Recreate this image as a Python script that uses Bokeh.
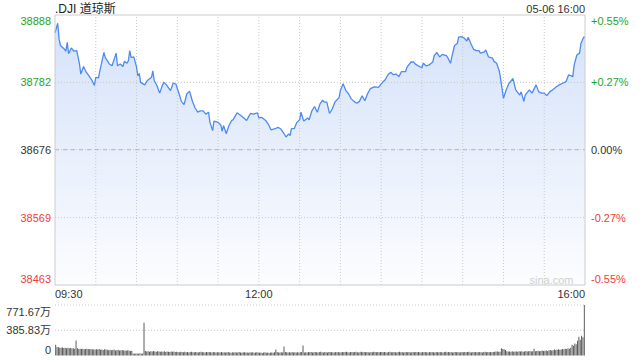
import numpy as np
from bokeh.plotting import figure
from bokeh.models import Range1d
from bokeh.core.properties import value
from bokeh.embed import file_html
from bokeh.resources import INLINE

# ---------------- data ----------------
title_text = ".DJI 道琼斯"
date_text = "05-06 16:00"
watermark_text = "sina.com"

prev_close = 38676

# minutes after 09:30 and index level
price_minutes = [0, 2, 3, 4, 7, 8, 9, 10, 12, 14, 16, 18, 19, 21, 23, 25, 27, 29, 30, 32,
                 33, 36, 37, 40, 42, 45, 46, 48, 50, 51, 53, 54, 55, 56, 58, 60, 61, 62, 63, 66,
                 68, 71, 72, 73, 75, 77, 79, 80, 82, 85, 87, 89, 91, 93, 95, 97, 99, 101, 103, 105,
                 107, 109, 111, 113, 114, 116, 117, 120, 122, 123, 124, 126, 128, 130, 131, 134, 136, 139, 141, 143,
                 144, 146, 149, 150, 152, 155, 157, 159, 162, 164, 166, 168, 170, 172, 173, 174, 176, 178, 180, 181,
                 183, 186, 187, 189, 191, 193, 195, 197, 198, 200, 202, 204, 206, 209, 210, 212, 214, 216, 218, 220,
                 222, 224, 226, 228, 230, 232, 235, 238, 241, 243, 245, 247, 249, 251, 253, 255, 258, 259, 262, 264,
                 265, 268, 270, 271, 273, 275, 278, 279, 281, 283, 285, 288, 289, 291, 292, 294, 296, 297, 299, 301,
                 303, 304, 306, 308, 310, 312, 313, 316, 317, 319, 322, 323, 325, 327, 328, 330, 332, 334, 337, 339,
                 342, 343, 345, 346, 349, 351, 354, 356, 358, 360, 362, 364, 366, 369, 371, 374, 376, 378, 381, 382,
                 384, 386, 387, 389, 390]
price_values = [38860, 38875, 38850, 38840, 38834, 38831, 38845, 38827, 38836, 38831, 38832, 38811, 38795, 38807, 38798, 38792, 38786, 38777, 38790, 38789,
                38800, 38829, 38821, 38811, 38808, 38828, 38808, 38811, 38807, 38815, 38812, 38816, 38832, 38821, 38822, 38806, 38792, 38796, 38782, 38778,
                38785, 38790, 38800, 38785, 38777, 38765, 38777, 38782, 38778, 38769, 38781, 38779, 38766, 38752, 38747, 38764, 38768, 38753, 38742, 38735,
                38737, 38737, 38732, 38735, 38719, 38706, 38721, 38719, 38715, 38705, 38714, 38701, 38714, 38722, 38723, 38734, 38731, 38726, 38722, 38730,
                38733, 38732, 38734, 38726, 38727, 38722, 38716, 38707, 38709, 38711, 38709, 38703, 38696, 38701, 38698, 38709, 38709, 38719, 38723, 38735,
                38721, 38726, 38723, 38737, 38744, 38735, 38748, 38754, 38751, 38751, 38733, 38740, 38751, 38758, 38769, 38780, 38769, 38764, 38756, 38752,
                38749, 38752, 38761, 38753, 38764, 38772, 38775, 38774, 38782, 38786, 38794, 38798, 38794, 38795, 38791, 38799, 38799, 38806, 38814, 38814,
                38811, 38807, 38805, 38812, 38808, 38809, 38814, 38824, 38829, 38822, 38826, 38824, 38821, 38812, 38822, 38840, 38843, 38853, 38854, 38852,
                38847, 38853, 38843, 38834, 38832, 38832, 38828, 38830, 38833, 38822, 38820, 38815, 38812, 38799, 38786, 38757, 38770, 38780, 38788, 38770,
                38762, 38767, 38752, 38762, 38770, 38765, 38778, 38767, 38765, 38765, 38761, 38767, 38770, 38775, 38778, 38781, 38783, 38794, 38791, 38809,
                38825, 38828, 38843, 38853, 38853]

# per-minute volume (万), one row per half hour
volume_rows = [
    [166, 130, 125, 120, 118, 122, 115, 120, 112, 118, 110, 115, 108, 112, 105, 230, 110, 100, 105, 98, 102, 95, 100, 105, 98, 95, 100, 92, 96, 90],
    [95, 90, 98, 88, 92, 85, 95, 90, 86, 82, 88, 80, 85, 90, 78, 82, 86, 76, 80, 84, 75, 78, 72, 80, 76, 70, 74, 30, 28, 32],
    [30, 25, 35, 28, 32, 500, 70, 62, 66, 58, 64, 60, 68, 62, 58, 65, 60, 56, 62, 58, 64, 55, 60, 58, 52, 60, 56, 62, 54, 58],
    [55, 50, 58, 52, 48, 56, 50, 54, 46, 52, 58, 50, 48, 54, 50, 46, 52, 56, 48, 50, 45, 52, 48, 55, 50, 46, 52, 48, 44, 50],
    [48, 45, 52, 46, 50, 44, 48, 52, 45, 42, 48, 46, 50, 44, 47, 52, 45, 43, 48, 50, 44, 46, 42, 48, 45, 50, 43, 46, 48, 44],
    [42, 45, 40, 44, 48, 42, 46, 40, 44, 47, 43, 50, 91, 52, 46, 44, 48, 45, 136, 55, 48, 44, 50, 46, 52, 44, 48, 45, 50, 46],
    [48, 52, 151, 46, 50, 46, 55, 48, 52, 45, 50, 54, 48, 46, 52, 58, 50, 47, 53, 49, 46, 52, 55, 48, 50, 46, 52, 49, 54, 47],
    [50, 54, 48, 52, 56, 50, 46, 52, 55, 49, 53, 58, 50, 47, 52, 56, 49, 53, 48, 55, 51, 47, 54, 50, 56, 52, 48, 53, 50, 55],
    [52, 48, 55, 50, 46, 53, 57, 50, 48, 54, 50, 46, 52, 56, 49, 53, 47, 51, 55, 48, 52, 46, 50, 54, 48, 52, 49, 55, 50, 47],
    [52, 48, 54, 50, 46, 53, 49, 55, 51, 47, 53, 50, 48, 54, 50, 46, 52, 56, 49, 53, 48, 52, 46, 50, 54, 49, 52, 47, 51, 55],
    [50, 54, 48, 52, 56, 50, 47, 53, 49, 55, 51, 48, 53, 50, 46, 52, 56, 50, 54, 48, 52, 49, 55, 58, 62, 60, 56, 58, 110, 100],
    [95, 85, 66, 60, 62, 58, 64, 56, 60, 62, 58, 64, 60, 66, 58, 62, 68, 60, 64, 70, 62, 66, 105, 64, 68, 74, 66, 70, 76, 68],
    [72, 78, 70, 80, 85, 76, 82, 90, 84, 88, 96, 86, 92, 100, 94, 105, 98, 110, 104, 120, 166, 150, 182, 170, 227, 287, 240, 303, 280, 771.67],
]
volumes = [v for row in volume_rows for v in row]

price_ticks = [38463, 38569, 38676, 38782, 38888]
price_tick_labels = ["38463", "38569", "38676", "38782", "38888"]
pct_tick_labels = ["-0.55%", "-0.27%", "0.00%", "+0.27%", "+0.55%"]

time_grid = [30, 60, 90, 120, 150, 180, 210, 240, 270, 300, 330, 360]
time_label_pos = [0, 150, 390]
time_label_text = ["09:30", "12:00", "16:00"]

vol_ticks = [0, 385.83, 771.67]
vol_tick_labels = ["0", "385.83万", "771.67万"]

# ---------------- layout (pixels) & style ----------------
W, H = 640, 360
L, R = 54.5, 584.5          # plot box left/right
T, B = 14.5, 284.5          # price box top/bottom
VT, VB = 304.5, 355.0       # volume panel top/bottom
FONT = value("Liberation Sans, Noto Sans CJK SC")
UP = "#1ea51e"
DOWN = "#f03c3c"
FLAT = "#333333"
GRID = "#c8c8c8"
X0, X1 = 0, 390
Y0, Y1 = price_ticks[0], price_ticks[-1]
VMAX = vol_ticks[-1]

# ranges so that the library maps data into the boxes above
xs = (X1 - X0) / (R - L)
x_range = Range1d(X0 - L * xs, X1 + (W - R) * xs)
ys = (Y1 - Y0) / (B - T)
y_range = Range1d(Y0 - (H - B) * ys, Y1 + T * ys)
vs = VMAX / (VB - VT)
vol_range = Range1d(0 - (H - VB) * vs, VMAX + VT * vs)

p = figure(width=W, height=H, x_range=x_range, y_range=y_range,
           toolbar_location=None, output_backend="svg",
           x_axis_location=None, y_axis_location=None,
           min_border=0, outline_line_color=None,
           background_fill_color="white", border_fill_color="white")
p.extra_y_ranges = {"vol": vol_range}
p.xgrid.visible = False
p.ygrid.visible = False

# vertical gradient under the curve (image + white mask above the line)
n = 256
t = np.linspace(0.0, 1.0, n)[:, None]
top_c = np.array([212, 226, 250], dtype=float)
bot_c = np.array([252, 253, 255], dtype=float)
cols = bot_c * (1 - t) + top_c * t
img = np.empty((n, 1), dtype=np.uint32)
view = img.view(dtype=np.uint8).reshape((n, 1, 4))
view[:, 0, 0:3] = cols.astype(np.uint8)
view[:, 0, 3] = 255
p.image_rgba(image=[img], x=X0, y=Y0, dw=X1 - X0, dh=Y1 - Y0)
p.varea(x=price_minutes, y1=price_values, y2=Y1, fill_color="white")

# grid lines
p.segment(x0=time_grid, y0=Y0, x1=time_grid, y1=Y1, line_color=GRID, line_dash="1 2", line_width=1)
mid_ticks = price_ticks[1:-1]
p.segment(x0=X0, y0=mid_ticks, x1=X1, y1=mid_ticks, line_color=GRID, line_dash="1 2", line_width=1)
p.segment(x0=[X0], y0=[prev_close], x1=[X1], y1=[prev_close], line_color="#e8a486",
          line_dash="4 4", line_width=1)

# price line
p.line(price_minutes, price_values, line_color="#4d8bf0", line_width=1.3)

# plot box
p.quad(left=[X0], right=[X1], bottom=[Y0], top=[Y1], fill_color=None, line_color="#cccccc", line_width=1)

# price tick labels
n_t = len(price_ticks)
tick_colors = [UP if v > prev_close else (DOWN if v < prev_close else FLAT) for v in price_ticks]
tick_yoff = [-6 if i == 0 else (6 if i == n_t - 1 else 0) for i in range(n_t)]
p.text(x=[X0] * n_t, y=price_ticks, text=price_tick_labels, x_offset=-4, y_offset=tick_yoff,
       text_align="right", text_baseline="middle", text_font=FONT, text_font_size="11px",
       text_color=tick_colors)
p.text(x=[X1] * n_t, y=price_ticks, text=pct_tick_labels, x_offset=6, y_offset=tick_yoff,
       text_align="left", text_baseline="middle", text_font=FONT, text_font_size="11px",
       text_color=tick_colors)

# time labels
p.text(x=[time_label_pos[0]], y=[Y0], text=[time_label_text[0]], y_offset=8.5,
       text_align="left", text_baseline="middle", text_font=FONT, text_font_size="11px", text_color="#333333")
p.text(x=[time_label_pos[1]], y=[Y0], text=[time_label_text[1]], y_offset=8.5,
       text_align="center", text_baseline="middle", text_font=FONT, text_font_size="11px", text_color="#333333")
p.text(x=[time_label_pos[2]], y=[Y0], text=[time_label_text[2]], y_offset=8.5,
       text_align="right", text_baseline="middle", text_font=FONT, text_font_size="11px", text_color="#333333")

# title / date / watermark
p.text(x=[X0], y=[Y1], text=[title_text], y_offset=-6, text_align="left", text_baseline="middle",
       text_font=FONT, text_font_size="12px", text_color="#222222")
p.text(x=[X1], y=[Y1], text=[date_text], y_offset=-6.5, text_align="right", text_baseline="middle",
       text_font=FONT, text_font_size="11px", text_color="#333333")
p.text(x=[X1], y=[Y0], text=[watermark_text], x_offset=-11.5, y_offset=-5.5, text_align="right",
       text_baseline="middle", text_font=FONT, text_font_size="11px", text_color="#d0d0d0")

# ---------------- volume panel ----------------
vol_x = [i + 0.5 for i in range(len(volumes))]
p.segment(x0=X0, y0=vol_ticks[1:], x1=X1, y1=vol_ticks[1:], line_color=GRID, line_dash="1 2",
          line_width=1, y_range_name="vol")
p.vbar(x=vol_x, top=volumes, bottom=0, width=0.7, fill_color="#555555", line_color=None,
       y_range_name="vol")
n_v = len(vol_ticks)
vol_yoff = [-6 if i == 0 else (7 if i == n_v - 1 else 0) for i in range(n_v)]
p.text(x=[X0] * n_v, y=vol_ticks, text=vol_tick_labels, x_offset=-4, y_offset=vol_yoff,
       text_align="right", text_baseline="middle", text_font=FONT, text_font_size="11px",
       text_color="#333333", y_range_name="vol")

open("out.html", "w").write(file_html(p, INLINE))
